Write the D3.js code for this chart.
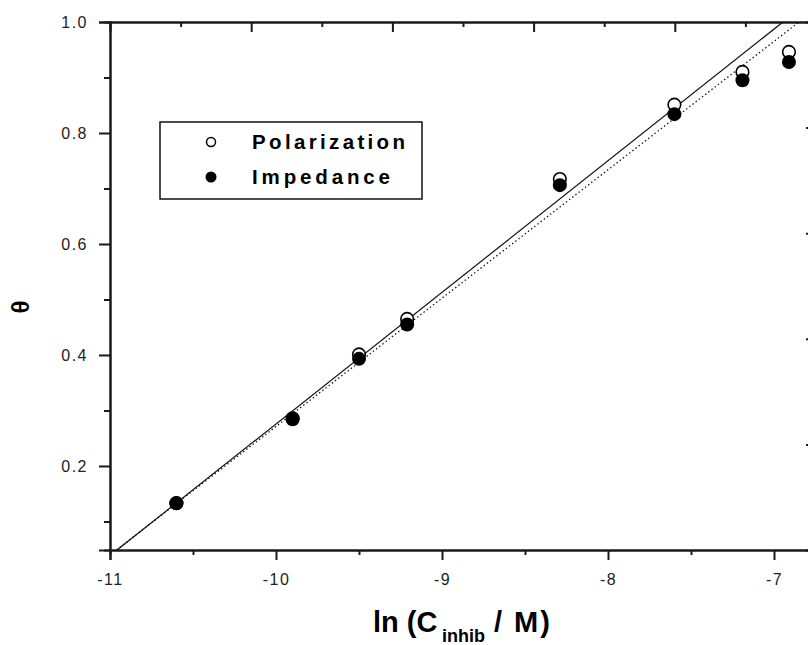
<!DOCTYPE html>
<html><head><meta charset="utf-8">
<script src="https://cdn.jsdelivr.net/npm/d3@7"></script>
<style>body{margin:0;background:#fff}svg{display:block}</style>
</head><body>
<svg id="c" width="808" height="645"></svg>
<script>
// ---- data ----
const lnC = [-10.60, -9.90, -9.50, -9.21, -8.29, -7.60, -7.19, -6.91];
const polarization = [0.133, 0.286, 0.401, 0.465, 0.717, 0.851, 0.910, 0.946];
const impedance    = [0.133, 0.284, 0.393, 0.455, 0.706, 0.834, 0.895, 0.928];
// linear fit end points
const fitPolX = [-10.96, -6.946], fitPolY = [0.048, 1.0];
const fitImpX = [-10.96, -6.849], fitImpY = [0.049, 1.0];
const xMajor = [-11, -10, -9, -8, -7];
const xMinor = [-10.5, -9.5, -8.5, -7.5];
const yMajor = [0.2, 0.4, 0.6, 0.8, 1.0];
const yMinor = [0.1, 0.3, 0.5, 0.7, 0.9];
const seriesNames = ["Polarization", "Impedance"];

const svg = d3.select("#c");
const L = 110, R = 816, T = 22, B = 550;
const x = d3.scaleLinear().domain([-11, -6.747]).range([L, R]);
const y = d3.scaleLinear().domain([0.0486, 1.0]).range([B, T]);
const ink = "#1a1a1a";
const tickFont = "'Liberation Sans', Arial, sans-serif";

svg.append("defs").append("clipPath").attr("id","clip")
  .append("rect").attr("x",L).attr("y",T).attr("width",R-L).attr("height",B-T);

// bottom axis
const bx = svg.append("g").attr("transform",`translate(0,${B})`)
  .call(d3.axisBottom(x).tickValues(xMajor).tickSize(10).tickFormat(d => "-" + Math.abs(d)));
const bxm = svg.append("g").attr("transform",`translate(0,${B})`)
  .call(d3.axisBottom(x).tickValues(xMinor).tickSize(5).tickFormat(""));
// left axis
const ly = svg.append("g").attr("transform",`translate(${L},0)`)
  .call(d3.axisLeft(y).tickValues(yMajor).tickSize(11).tickFormat(d3.format(".1f")));
const lym = svg.append("g").attr("transform",`translate(${L},0)`)
  .call(d3.axisLeft(y).tickValues(yMinor).tickSize(6).tickFormat(""));
// top axis (secondary, evenly divided)
const topScale = d3.scaleLinear().domain([0,10]).range([L,R]);
const topMaj = svg.append("g").attr("transform",`translate(0,${T})`)
  .call(d3.axisTop(topScale).tickValues([2,4,6,8]).tickSize(-10).tickFormat(""));
const topMin = svg.append("g").attr("transform",`translate(0,${T})`)
  .call(d3.axisTop(topScale).tickValues([1,3,5,7,9]).tickSize(-5).tickFormat(""));
// right axis
const rScale = d3.scaleLinear().domain([0,5]).range([B,T]);
const ry = svg.append("g").attr("transform",`translate(${R},0)`)
  .call(d3.axisRight(rScale).tickValues([1,2,3,4]).tickSize(-10).tickFormat(""));

[bx,bxm,ly,lym,topMaj,topMin,ry].forEach(g=>{
  g.select(".domain").attr("stroke",ink).attr("stroke-width",2);
  g.selectAll(".tick line").attr("stroke",ink).attr("stroke-width",2);
});
bx.selectAll(".tick text").attr("font-family",tickFont).attr("font-size",16)
  .attr("letter-spacing","1.5px").attr("fill","#222").attr("y",24);
ly.selectAll(".tick text").attr("font-family",tickFont).attr("font-size",16)
  .attr("letter-spacing","1.5px").attr("fill","#222").attr("x",-22);

// fit lines
const line = d3.line().x(d=>x(d[0])).y(d=>y(d[1]));
const plot = svg.append("g").attr("clip-path","url(#clip)");
plot.append("path").datum(d3.zip(fitPolX, fitPolY)).attr("d",line)
  .attr("fill","none").attr("stroke","#111").attr("stroke-width",1.2);
plot.append("path").datum(d3.zip(fitImpX, fitImpY)).attr("d",line)
  .attr("fill","none").attr("stroke","#111").attr("stroke-width",1.3)
  .attr("stroke-dasharray","1.4,2.6");

// markers
svg.append("g").selectAll("circle").data(d3.zip(lnC, polarization)).join("circle")
  .attr("cx",d=>x(d[0])).attr("cy",d=>y(d[1])).attr("r",6.3)
  .attr("fill","#fff").attr("stroke","#000").attr("stroke-width",1.6);
svg.append("g").selectAll("circle").data(d3.zip(lnC, impedance)).join("circle")
  .attr("cx",d=>x(d[0])).attr("cy",d=>y(d[1])).attr("r",7)
  .attr("fill","#000");

// legend
const lg = svg.append("g");
lg.append("rect").attr("x",160).attr("y",122).attr("width",262).attr("height",77)
  .attr("fill","#fff").attr("stroke","#111").attr("stroke-width",1.5);
lg.append("circle").attr("cx",211).attr("cy",142).attr("r",4.5)
  .attr("fill","#fff").attr("stroke","#000").attr("stroke-width",1.5);
lg.append("circle").attr("cx",211).attr("cy",177).attr("r",5.5).attr("fill","#000");
const legendWidths = [153, 138];
seriesNames.forEach((s,i)=>{
  lg.append("text").attr("x",252).attr("y",149+i*35).text(s)
    .attr("font-family","'Liberation Sans', Arial, sans-serif").attr("font-weight","bold")
    .attr("font-size",20.5).attr("textLength",legendWidths[i])
    .attr("lengthAdjust","spacing").attr("fill","#000");
});

// axis titles
const xt = svg.append("text").attr("y",632)
  .attr("font-family","'Liberation Sans', Arial, sans-serif").attr("font-weight","bold")
  .attr("font-size",29).attr("fill","#000");
xt.append("tspan").attr("x",373).text("ln (C");
xt.append("tspan").attr("x",442).attr("y",642).attr("font-size",18).text("inhib");
xt.append("tspan").attr("x",494).attr("y",632).attr("letter-spacing","2px").text("/ M)");

svg.append("text").attr("transform","translate(29,307) rotate(-90)")
  .attr("text-anchor","middle").attr("font-family","'Liberation Sans', Arial, sans-serif")
  .attr("font-weight","bold").attr("font-size",24).attr("fill","#000").text("θ");
</script>
</body></html>
